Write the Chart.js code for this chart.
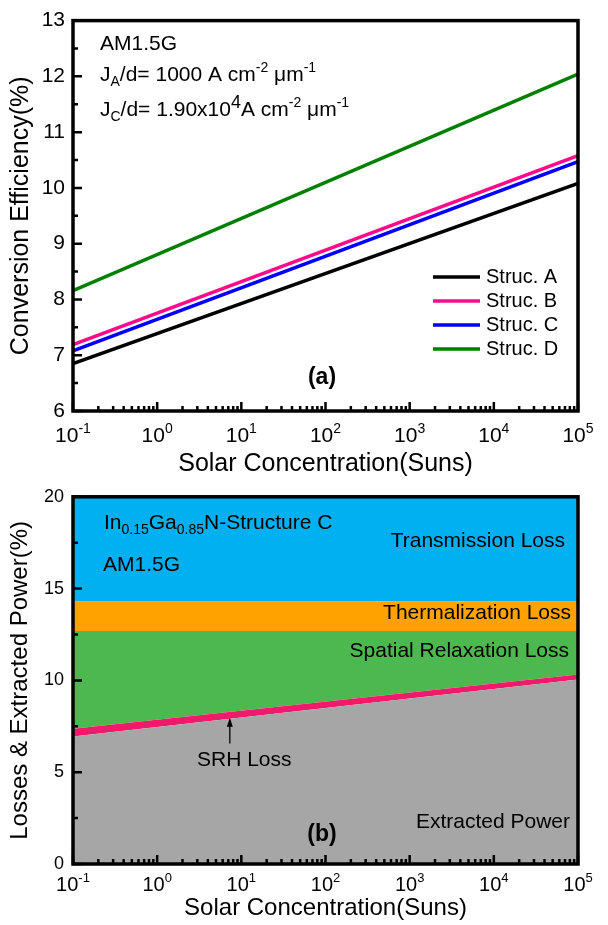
<!DOCTYPE html>
<html>
<head>
<meta charset="utf-8">
<script src="https://cdn.jsdelivr.net/npm/chart.js@4.4.1/dist/chart.umd.min.js"></script>
<style>
  html, body { margin: 0; padding: 0; background: #fff; }
  #wrap { position: relative; width: 608px; height: 925px; }
  canvas { position: absolute; left: 0; }
  #effChart { top: 0; }
  #lossChart { top: 477px; }
</style>
</head>
<body>
<div id="wrap">
  <canvas id="effChart" width="608" height="477"></canvas>
  <canvas id="lossChart" width="608" height="448"></canvas>
</div>
<script>
const FONT = '"Liberation Sans", Arial, sans-serif';

// x values (Suns) and decade tick labels
const suns = [0.1, 100000];
const decades = [0.1, 1, 10, 100, 1000, 10000, 100000];

// (a) conversion efficiency (%)
const strucA = [6.85, 10.08];
const strucB = [7.19, 10.58];
const strucC = [7.08, 10.47];
const strucD = [8.16, 12.04];
const strucLabels = ['Struc. A', 'Struc. B', 'Struc. C', 'Struc. D'];
const strucColors = ['#000000', '#ff0a8a', '#0000ff', '#008000'];

// (b) upper boundary of each stacked area (%)
const extractedTop = [6.95, 10.05];
const srhTop = [7.37, 10.32];
const spatialTop = [12.69, 12.69];
const thermalTop = [14.3, 14.3];
const transmissionTop = [20, 20];
const lossLabels = ['Extracted Power', 'SRH Loss', 'Spatial Relaxation Loss', 'Thermalization Loss', 'Transmission Loss'];
const lossColors = ['#a6a6a6', '#f0196a', '#4cb84f', '#ffa200', '#00b0f0'];

const pts = ys => suns.map((x, i) => ({ x: x, y: ys[i] }));

function logTicks(scale) {
  const ticks = [];
  decades.forEach((d, i) => {
    ticks.push({ value: d, major: true });
    if (i < decades.length - 1) {
      for (let k = 2; k <= 9; k++) ticks.push({ value: k * d, major: false });
    }
  });
  scale.ticks = ticks;
}

// draws a line of text with sub/superscript runs, left aligned
function drawRich(ctx, x, y, runs, size) {
  let cx = x;
  runs.forEach(r => {
    const s = r.size || ((r.sub || r.sup) ? Math.round(size * 0.66) : size);
    ctx.font = (r.bold ? 'bold ' : '') + s + 'px ' + FONT;
    const dy = r.sub ? 5 : r.sup ? (r.rise || -9) : 0;
    ctx.fillText(r.t, cx, y + dy);
    cx += ctx.measureText(r.t).width;
  });
}

// inward ticks, frame and 10^n labels
const frameTicks = {
  id: 'frameTicks',
  afterDraw(chart, args, o) {
    const { ctx, chartArea: a } = chart;
    const x = chart.scales.x, y = chart.scales.y;
    ctx.save();
    ctx.strokeStyle = '#000';
    ctx.lineWidth = 2.5;
    ctx.beginPath();
    x.ticks.forEach(t => {
      const px = x.getPixelForValue(t.value);
      ctx.moveTo(px, a.bottom);
      ctx.lineTo(px, a.bottom - (t.major ? 9 : 5));
    });
    y.ticks.forEach(t => {
      const py = y.getPixelForValue(t.value);
      const q = t.value / o.yMajor;
      const major = Math.abs(q - Math.round(q)) < 1e-6;
      ctx.moveTo(a.left, py);
      ctx.lineTo(a.left + (major ? 9 : 5), py);
    });
    ctx.stroke();
    ctx.lineWidth = 3.5;
    ctx.strokeRect(a.left, a.top, a.right - a.left, a.bottom - a.top);

    ctx.fillStyle = '#000';
    ctx.textBaseline = 'middle';
    ctx.textAlign = 'left';
    decades.forEach(v => {
      const px = x.getPixelForValue(v);
      const exp = String(Math.round(Math.log10(v)));
      ctx.font = o.baseSize + 'px ' + FONT;
      const w1 = ctx.measureText('10').width;
      ctx.font = o.expSize + 'px ' + FONT;
      const w2 = ctx.measureText(exp).width;
      const left = px - (w1 + w2) / 2;
      ctx.font = o.baseSize + 'px ' + FONT;
      ctx.fillText('10', left, o.labelY);
      ctx.font = o.expSize + 'px ' + FONT;
      ctx.fillText(exp, left + w1, o.labelY - 7);
    });
    ctx.restore();
  }
};

// text notes, legend and arrow
const notes = {
  id: 'notes',
  afterDraw(chart, args, o) {
    const ctx = chart.ctx;
    ctx.save();
    ctx.fillStyle = '#000';
    (o.rich || []).forEach(n => {
      ctx.textBaseline = 'alphabetic';
      ctx.textAlign = 'left';
      drawRich(ctx, n.x, n.y, n.runs, 21);
    });
    (o.labels || []).forEach(n => {
      ctx.textBaseline = 'middle';
      ctx.textAlign = n.align;
      ctx.font = (n.bold ? 'bold ' : '') + n.size + 'px ' + FONT;
      ctx.fillText(n.text, n.x, n.y);
    });
    if (o.legend) {
      const lg = o.legend;
      chart.data.datasets.forEach((ds, i) => {
        const yy = lg.y + i * lg.step;
        ctx.strokeStyle = ds.borderColor;
        ctx.lineWidth = 3.5;
        ctx.beginPath();
        ctx.moveTo(lg.x, yy);
        ctx.lineTo(lg.x + 47, yy);
        ctx.stroke();
        ctx.textBaseline = 'middle';
        ctx.textAlign = 'left';
        ctx.font = '20px ' + FONT;
        ctx.fillText(ds.label, lg.x + 53, yy);
      });
    }
    if (o.arrow) {
      const x = chart.scales.x, y = chart.scales.y;
      const px = x.getPixelForValue(o.arrow.x);
      const y0 = y.getPixelForValue(o.arrow.from);
      const y1 = y.getPixelForValue(o.arrow.to);
      ctx.strokeStyle = '#000';
      ctx.lineWidth = 1.3;
      ctx.beginPath();
      ctx.moveTo(px, y0);
      ctx.lineTo(px, y1 + 6);
      ctx.stroke();
      ctx.beginPath();
      ctx.moveTo(px, y1);
      ctx.lineTo(px - 3, y1 + 9);
      ctx.lineTo(px + 3, y1 + 9);
      ctx.closePath();
      ctx.fill();
    }
    ctx.restore();
  }
};

// (a) conversion efficiency
new Chart(document.getElementById('effChart'), {
  type: 'line',
  data: {
    datasets: [strucA, strucB, strucC, strucD].map((ys, i) => ({
      label: strucLabels[i],
      data: pts(ys),
      borderColor: strucColors[i],
      borderWidth: 3.5,
      pointRadius: 0,
      fill: false
    }))
  },
  options: {
    responsive: false,
    animation: false,
    layout: { padding: { top: 14, right: 30, left: 0, bottom: 0 } },
    plugins: {
      legend: { display: false },
      tooltip: { enabled: false },
      frameTicks: { yMajor: 1, baseSize: 21, expSize: 14, labelY: 436 },
      notes: {
        rich: [
          { x: 100, y: 50, runs: [{ t: 'AM1.5G' }] },
          { x: 100, y: 81, runs: [{ t: 'J' }, { t: 'A', sub: true }, { t: '/d= 1000 A cm' }, { t: '-2', sup: true },
                                 { t: ' \u03bcm' }, { t: '-1', sup: true }] },
          { x: 100, y: 116, runs: [{ t: 'J' }, { t: 'C', sub: true }, { t: '/d= 1.90x10' }, { t: '4', sup: true, size: 18, rise: -8 },
                                  { t: 'A cm' }, { t: '-2', sup: true }, { t: ' \u03bcm' }, { t: '-1', sup: true }] }
        ],
        labels: [
          { text: '(a)', x: 322, y: 378, align: 'center', size: 23, bold: true }
        ],
        legend: { x: 433, y: 277, step: 24 }
      }
    },
    scales: {
      x: {
        type: 'logarithmic',
        min: 0.1,
        max: 100000,
        afterBuildTicks: logTicks,
        afterFit: s => { s.height = 66; },
        grid: { display: false, drawTicks: false },
        border: { display: false },
        ticks: { display: false },
        title: {
          display: true,
          text: 'Solar Concentration(Suns)',
          color: '#000',
          font: { family: FONT, size: 25, lineHeight: 1 },
          padding: { top: 0, bottom: 0 }
        }
      },
      y: {
        min: 6,
        max: 13,
        afterFit: s => { s.width = 73; },
        grid: { display: false, drawTicks: false },
        border: { display: false },
        ticks: {
          stepSize: 0.5,
          autoSkip: false,
          padding: 8,
          color: '#000',
          font: { family: FONT, size: 21 },
          callback: v => Number.isInteger(v) ? v : ''
        },
        title: {
          display: true,
          text: 'Conversion Efficiency(%)',
          color: '#000',
          font: { family: FONT, size: 25, lineHeight: 1 },
          padding: { top: 9, bottom: 0 }
        }
      }
    }
  },
  plugins: [frameTicks, notes]
});

// (b) losses & extracted power
new Chart(document.getElementById('lossChart'), {
  type: 'line',
  data: {
    datasets: [extractedTop, srhTop, spatialTop, thermalTop, transmissionTop].map((ys, i) => ({
      label: lossLabels[i],
      data: pts(ys),
      borderColor: 'transparent',
      borderWidth: 0,
      backgroundColor: lossColors[i],
      pointRadius: 0,
      fill: i === 0 ? 'origin' : '-1'
    }))
  },
  options: {
    responsive: false,
    animation: false,
    layout: { padding: { top: 15, right: 30, left: 0, bottom: 0 } },
    plugins: {
      legend: { display: false },
      tooltip: { enabled: false },
      frameTicks: { yMajor: 5, baseSize: 20, expSize: 13, labelY: 408 },
      notes: {
        rich: [
          { x: 104, y: 52, runs: [{ t: 'In' }, { t: '0.15', sub: true }, { t: 'Ga' }, { t: '0.85', sub: true }, { t: 'N-Structure C' }] },
          { x: 103, y: 94, runs: [{ t: 'AM1.5G' }] }
        ],
        labels: [
          { text: 'Transmission Loss', x: 565, y: 64, align: 'right', size: 21 },
          { text: 'Thermalization Loss', x: 571, y: 136, align: 'right', size: 21 },
          { text: 'Spatial Relaxation Loss', x: 569, y: 174, align: 'right', size: 21 },
          { text: 'SRH Loss', x: 197, y: 283, align: 'left', size: 21 },
          { text: 'Extracted Power', x: 570, y: 345, align: 'right', size: 21 },
          { text: '(b)', x: 322, y: 358, align: 'center', size: 23, bold: true }
        ],
        arrow: { x: 7.3, from: 6.56, to: 7.96 }
      }
    },
    scales: {
      x: {
        type: 'logarithmic',
        min: 0.1,
        max: 100000,
        afterBuildTicks: logTicks,
        afterFit: s => { s.height = 61; },
        grid: { display: false, drawTicks: false },
        border: { display: false },
        ticks: { display: false },
        title: {
          display: true,
          text: 'Solar Concentration(Suns)',
          color: '#000',
          font: { family: FONT, size: 24, lineHeight: 1 },
          padding: { top: 0, bottom: 5 }
        }
      },
      y: {
        min: 0,
        max: 20,
        afterFit: s => { s.width = 73; },
        grid: { display: false, drawTicks: false },
        border: { display: false },
        ticks: {
          stepSize: 2.5,
          autoSkip: false,
          padding: 9,
          color: '#000',
          font: { family: FONT, size: 18 },
          callback: v => v % 5 === 0 ? v : ''
        },
        title: {
          display: true,
          text: 'Losses & Extracted Power(%)',
          color: '#000',
          font: { family: FONT, size: 24, lineHeight: 1 },
          padding: { top: 8, bottom: 0 }
        }
      }
    }
  },
  plugins: [frameTicks, notes]
});
</script>
</body>
</html>
